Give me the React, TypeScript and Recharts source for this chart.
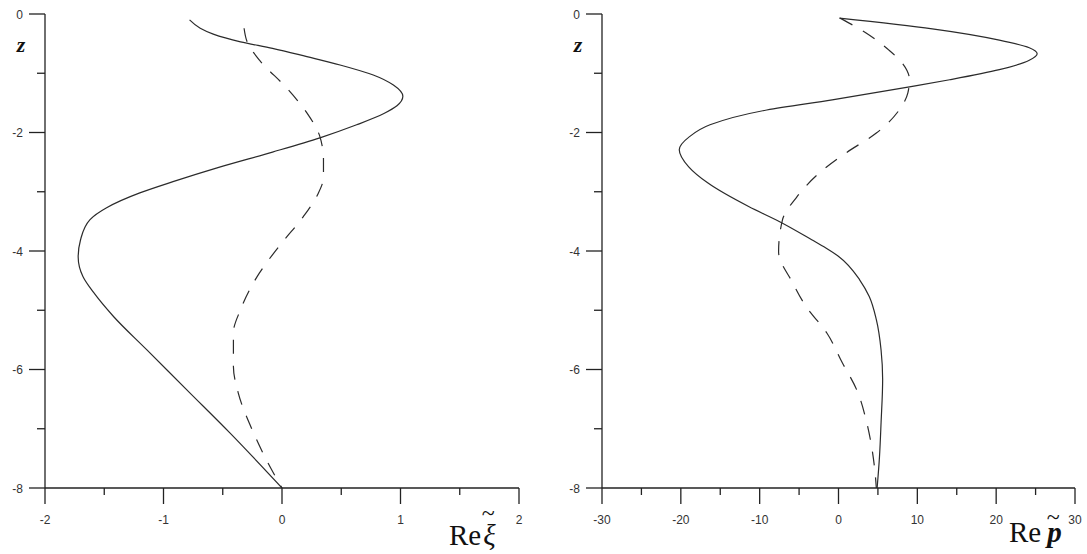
import React from 'react';
import { LineChart, Line, XAxis, YAxis } from 'recharts';

// depth z (both panels share the same vertical axis)
const zTicks = [0, -1, -2, -3, -4, -5, -6, -7, -8];
const xiTicks = [-2, -1.5, -1, -0.5, 0, 0.5, 1, 1.5, 2];
const pTicks = [-30, -25, -20, -15, -10, -5, 0, 5, 10, 15, 20, 25, 30];

// Re xi, solid profile
const xiSolidZ = [-0.1, -0.24, -0.34, -0.47, -0.58, -0.72, -0.86, -1.03, -1.2, -1.39, -1.55, -1.68, -1.87, -2.09, -2.33, -2.58, -2.83, -3.02, -3.27, -3.47, -3.81, -4.1, -4.43, -4.7, -5.11, -5.67, -6.39, -7.07, -8.0];
const xiSolidRe = [-0.78, -0.69, -0.58, -0.35, -0.08, 0.21, 0.49, 0.77, 0.94, 1.02, 0.97, 0.86, 0.63, 0.32, -0.08, -0.52, -0.92, -1.2, -1.48, -1.62, -1.7, -1.72, -1.68, -1.59, -1.42, -1.14, -0.78, -0.44, 0.0];

// Re xi, dashed profile
const xiDashZ = [-0.24, -0.49, -0.78, -1.25, -1.67, -2.07, -2.46, -2.75, -3.05, -3.42, -3.86, -4.37, -4.99, -5.38, -5.95, -6.39, -7.07, -7.57, -8.0];
const xiDashRe = [-0.32, -0.29, -0.19, 0.04, 0.21, 0.32, 0.35, 0.35, 0.3, 0.18, 0.0, -0.19, -0.35, -0.41, -0.41, -0.37, -0.24, -0.12, 0.0];

// Re p, solid profile
const pSolidZ = [-0.07, -0.25, -0.44, -0.57, -0.67, -0.78, -0.94, -1.11, -1.23, -1.45, -1.62, -1.87, -2.07, -2.29, -2.58, -2.85, -3.25, -3.51, -3.81, -3.95, -4.1, -4.49, -4.77, -5.16, -5.67, -6.17, -6.9, -7.47, -8.0];
const pSolidRe = [0.1, 11.9, 20.4, 24.2, 25.2, 24.2, 20.4, 14.1, 9.0, -0.8, -9.1, -16.3, -18.9, -20.2, -19.0, -16.6, -11.4, -7.4, -3.4, -1.6, 0.1, 2.7, 3.9, 4.8, 5.4, 5.6, 5.4, 5.2, 4.9];

// Re p, dashed profile
const pDashZ = [-0.07, -0.32, -0.61, -0.83, -1.11, -1.33, -1.62, -2.01, -2.34, -2.68, -3.09, -3.47, -4.01, -4.54, -4.94, -5.38, -5.89, -6.34, -6.85, -7.3, -7.69, -8.0];
const pDashRe = [0.2, 3.5, 6.4, 8.1, 9.0, 8.8, 7.7, 4.8, 1.0, -2.4, -5.3, -7.1, -7.6, -5.8, -4.1, -1.5, 0.5, 2.3, 3.5, 4.2, 4.6, 4.8];

const zip = (z: number[], v: number[]) => z.map((zz, i) => ({ z: zz, v: v[i] }));

const INK = '#222';
const CURVE = '#2b2b2b';
const TICK_FONT = '"Liberation Sans", Arial, sans-serif';

function BottomTick(props: any) {
  const { x, y, payload, isMajor } = props;
  const major = isMajor(payload.value);
  return (
    <g>
      <line x1={x} y1={y} x2={x} y2={y + (major ? 16 : 7)} stroke={INK} strokeWidth={1.3} />
      {major && (
        <text x={x} y={y + 36} textAnchor="middle" fontSize={12} fontFamily={TICK_FONT} fill="#333">
          {payload.value}
        </text>
      )}
    </g>
  );
}

function LeftTick(props: any) {
  const { x, y, payload } = props;
  const major = payload.value % 2 === 0;
  return (
    <g>
      <line x1={x} y1={y} x2={x - (major ? 16 : 8)} y2={y} stroke={INK} strokeWidth={1.3} />
      {major && (
        <text x={x - 22} y={y + 4.5} textAnchor="end" fontSize={12} fontFamily={TICK_FONT} fill="#333">
          {payload.value}
        </text>
      )}
    </g>
  );
}

function Panel(props: {
  left: number;
  width: number;
  yAxisWidth: number;
  right: number;
  domain: [number, number];
  ticks: number[];
  isMajor: (v: number) => boolean;
  solid: { z: number; v: number }[];
  dashed: { z: number; v: number }[];
}) {
  const { left, width, yAxisWidth, right, domain, ticks, isMajor, solid, dashed } = props;
  return (
    <div style={{ position: 'absolute', left, top: 0 }}>
      <LineChart layout="vertical" width={width} height={554} margin={{ top: 14, right, bottom: 26, left: 0 }}>
        <XAxis
          type="number"
          domain={domain}
          ticks={ticks}
          interval={0}
          allowDataOverflow
          height={40}
          tickSize={0}
          tickMargin={0}
          tickLine={false}
          axisLine={{ stroke: INK, strokeWidth: 1.3 }}
          tick={(p: any) => <BottomTick {...p} isMajor={isMajor} />}
        />
        {/* vertical layout runs the y scale top-down, so flip it to put z = 0 on top */}
        <YAxis
          type="number"
          dataKey="z"
          domain={[-8, 0]}
          reversed
          ticks={zTicks}
          interval={0}
          allowDataOverflow
          width={yAxisWidth}
          tickSize={0}
          tickMargin={0}
          tickLine={false}
          axisLine={{ stroke: INK, strokeWidth: 1.3 }}
          tick={(p: any) => <LeftTick {...p} />}
        />
        <Line data={solid} dataKey="v" type="monotone" stroke={CURVE} strokeWidth={1.2} dot={false} isAnimationActive={false} />
        <Line data={dashed} dataKey="v" type="monotone" stroke={CURVE} strokeWidth={1.2} strokeDasharray="14 12" dot={false} isAnimationActive={false} />
      </LineChart>
    </div>
  );
}

export default function App() {
  const serif = '"Liberation Serif", "Times New Roman", serif';
  return (
    <div style={{ position: 'absolute', left: 0, top: 0, width: 1087, height: 554, background: '#fff' }}>
      <Panel
        left={0}
        width={543}
        yAxisWidth={45}
        right={24}
        domain={[-2, 2]}
        ticks={xiTicks}
        isMajor={(v) => Number.isInteger(v)}
        solid={zip(xiSolidZ, xiSolidRe)}
        dashed={zip(xiDashZ, xiDashRe)}
      />
      <Panel
        left={543}
        width={544}
        yAxisWidth={59}
        right={12}
        domain={[-30, 30]}
        ticks={pTicks}
        isMajor={(v) => v % 10 === 0}
        solid={zip(pSolidZ, pSolidRe)}
        dashed={zip(pDashZ, pDashRe)}
      />
      {/* axis titles; the tilde is lifted over the symbol inside the same text run */}
      <svg width={1087} height={554} style={{ position: 'absolute', left: 0, top: 0, pointerEvents: 'none' }}>
        <g fontFamily={serif} fill="#111">
          <text x={21} y={52} textAnchor="middle" fontSize={22} fontStyle="italic" fontWeight="bold">z</text>
          <text x={578} y={52} textAnchor="middle" fontSize={22} fontStyle="italic" fontWeight="bold">z</text>

          <text x={449} y={545} fontSize={29}>
            Re
            <tspan dx={2} fontStyle="italic">ξ</tspan>
            <tspan dx={-14} dy={-24} fontSize={24}>~</tspan>
          </text>
          <text x={1009} y={542} fontSize={29}>
            Re
            <tspan dx={6} fontStyle="italic" fontWeight="bold">p</tspan>
            <tspan dx={-15} dy={-17} fontSize={24}>~</tspan>
          </text>
        </g>
      </svg>
    </div>
  );
}
